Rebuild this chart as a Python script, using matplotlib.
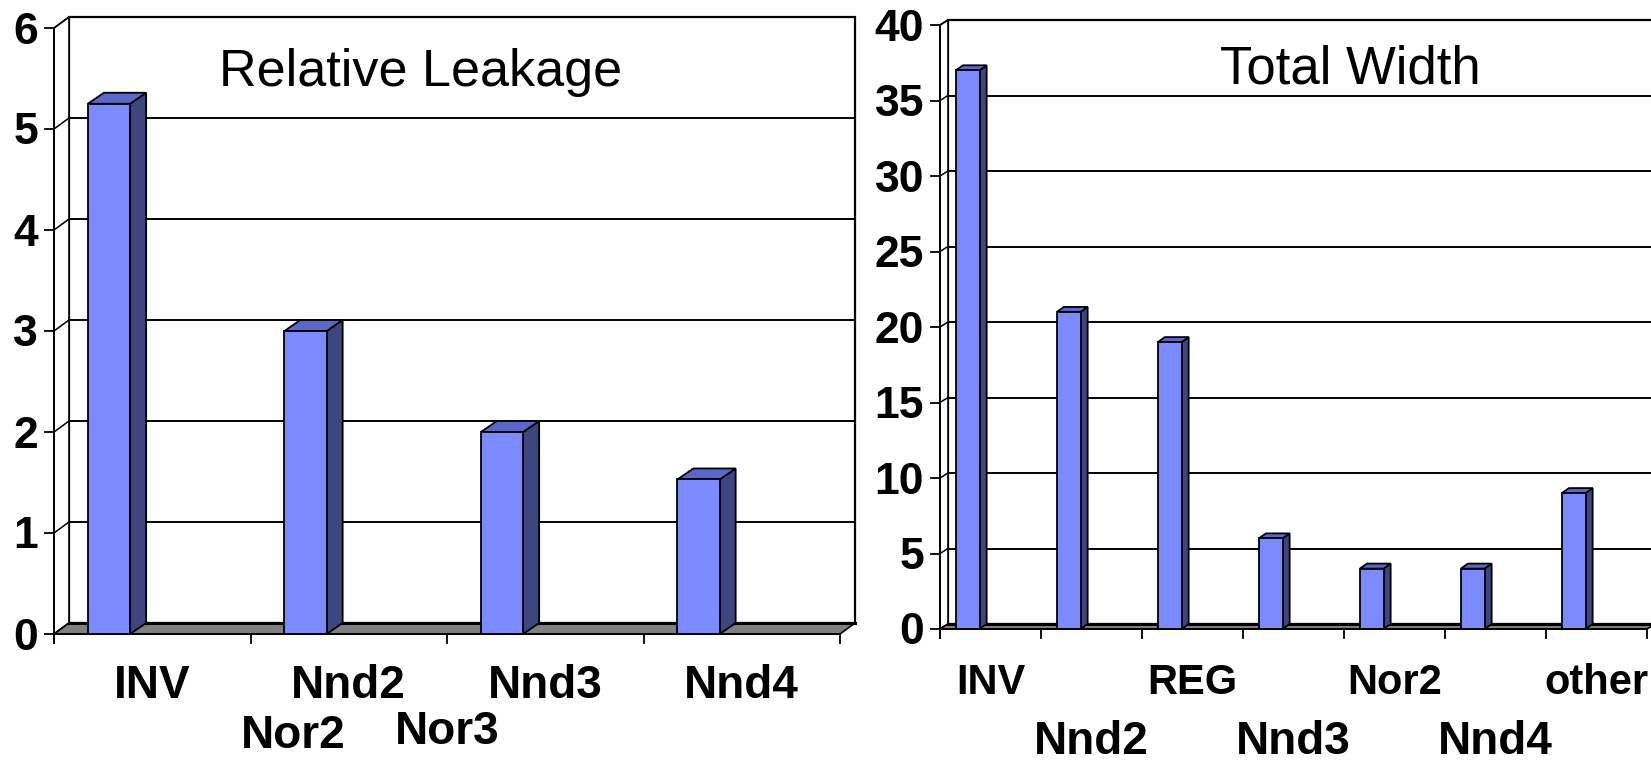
import matplotlib
matplotlib.use("Agg")
import matplotlib.pyplot as plt
from matplotlib.patches import Polygon
import numpy as np

# ---------------- data ----------------
leak_title = "Relative Leakage"
leak_categories = ["INV", "Nnd2", "Nnd3", "Nnd4"]
leak_values = [5.25, 3.0, 2.0, 1.53]
leak_yticks = [0, 1, 2, 3, 4, 5, 6]
leak_extra_labels = ["Nor2", "Nor3"]

width_title = "Total Width"
width_categories = ["INV", "Nnd2", "REG", "Nnd3", "Nor2", "Nnd4", "other"]
width_values = [37, 21, 19, 6, 4, 4, 9]
width_yticks = [0, 5, 10, 15, 20, 25, 30, 35, 40]

# ---------------- style ----------------
FRONT = "#7B8BFF"
SIDE = "#3D4680"
TOP = "#5A69C8"
FLOOR = "#808080"
BOLD = dict(family=["Liberation Sans", "DejaVu Sans"], weight="bold")
REGF = dict(family=["Liberation Sans", "DejaVu Sans"], weight="normal")

W, H = 1651, 762
DPI = 100
fig = plt.figure(figsize=(W / DPI, H / DPI), dpi=DPI)
fig.patch.set_facecolor("white")


def px_axes(x0, y0, x1, y1):
    return fig.add_axes([x0 / W, 1 - y1 / H, (x1 - x0) / W, (y1 - y0) / H])


def draw_chart(ax, cats, vals, yticks, wall_off, bar_off, bar_shift, bar_w,
               rows, row_base, row_fs, extra=None, fs_tick=32):
    n = len(cats)
    ymax = yticks[-1]
    ax.set_xlim(-0.5, n - 0.5)
    ax.set_ylim(0, ymax)
    ax.set_axis_off()
    bb = ax.get_position()
    sx = bb.width * W / n
    sy = bb.height * H / ymax
    wdx, wdy = wall_off[0] / sx, wall_off[1] / sy
    bdx, bdy = bar_off[0] / sx, bar_off[1] / sy
    xl, xr = -0.5, n - 0.5
    kw = dict(clip_on=False)

    # back wall
    ax.add_patch(Polygon([(xl + wdx, wdy), (xr + wdx, wdy), (xr + wdx, ymax + wdy),
                          (xl + wdx, ymax + wdy)], closed=True, fc="white",
                         ec="black", lw=1.6, zorder=1, **kw))
    for t in yticks[1:-1]:
        ax.plot([xl + wdx, xr + wdx], [t + wdy, t + wdy], color="black",
                lw=1.4, zorder=2, solid_capstyle="butt", **kw)
    # left side wall
    ax.add_patch(Polygon([(xl, 0), (xl, ymax), (xl + wdx, ymax + wdy), (xl + wdx, wdy)],
                         closed=True, fc="white", ec="black", lw=1.2, zorder=2, **kw))
    for t in yticks:
        ax.plot([xl, xl + wdx], [t, t + wdy], color="black", lw=1.1, zorder=2, **kw)
    # floor
    ax.add_patch(Polygon([(xl, 0), (xr, 0), (xr + wdx, wdy), (xl + wdx, wdy)],
                         closed=True, fc=FLOOR, ec="black", lw=1.2, zorder=3, **kw))
    ax.plot([xl + wdx, xr + wdx], [wdy, wdy], color="black", lw=2.2, zorder=3, **kw)

    # bars
    pos = np.arange(n) + bar_shift
    ax.bar(pos, vals, width=bar_w, color=FRONT, edgecolor="black", linewidth=1.3,
           zorder=6, clip_on=False)
    for p, v in zip(pos, vals):
        x0, x1 = p - bar_w / 2, p + bar_w / 2
        ax.add_patch(Polygon([(x1, 0), (x1, v), (x1 + bdx, v + bdy), (x1 + bdx, bdy)],
                             closed=True, fc=SIDE, ec="black", lw=1.3, zorder=5, **kw))
        ax.add_patch(Polygon([(x0, v), (x1, v), (x1 + bdx, v + bdy), (x0 + bdx, v + bdy)],
                             closed=True, fc=TOP, ec="black", lw=1.3, zorder=5, **kw))

    # front axis, ticks
    tl_y = 9 / sy
    tl_x = 9 / sx
    ax.plot([xl, xl], [-tl_y, ymax], color="black", lw=1.3, zorder=7, **kw)
    ax.plot([xl, xr], [0, 0], color="black", lw=1.3, zorder=7, **kw)
    for t in yticks:
        ax.plot([xl - tl_x, xl], [t, t], color="black", lw=1.3, zorder=7, **kw)
        ax.text(xl - 16 / sx, t - 15.5 / sy, str(t), ha="right", va="baseline",
                fontsize=fs_tick, zorder=8, **BOLD)
    for b in np.arange(n + 1) - 0.5:
        ax.plot([b, b], [0, -tl_y], color="black", lw=1.3, zorder=7, **kw)

    # category labels
    for i, c in enumerate(cats):
        r = rows[i]
        ax.text(i, -row_base[r] / sy, c, ha="center", va="baseline",
                fontsize=row_fs[r], zorder=8, **BOLD)
    if extra:
        for lab, xpos, base in extra:
            ax.text(xpos, -base / sy, lab, ha="center", va="baseline",
                    fontsize=row_fs[1], zorder=8, **BOLD)


# left chart
axL = px_axes(54, 28, 840, 634)
draw_chart(axL, leak_categories, leak_values, leak_yticks,
           wall_off=(15, 11), bar_off=(16, 11), bar_shift=-0.22, bar_w=0.215,
           rows=[0, 0, 0, 0], row_base=(64, 114), row_fs=(33, 33),
           extra=[(leak_extra_labels[0], 0.72, 114), (leak_extra_labels[1], 1.5, 110)])
fig.text(421 / W, 1 - 86 / H, leak_title, ha="center", va="baseline",
         fontsize=37.5, **REGF)

# right chart
axR = px_axes(940, 25, 1647, 629)
draw_chart(axR, width_categories, width_values, width_yticks,
           wall_off=(8, 5), bar_off=(7, 5), bar_shift=-0.225, bar_w=0.235,
           rows=[0, 1, 0, 1, 0, 1, 0], row_base=(65, 125), row_fs=(30, 33))
fig.text(1350 / W, 1 - 83 / H, width_title, ha="center", va="baseline",
         fontsize=38, **REGF)

fig.savefig("out.png", dpi=DPI, facecolor="white")
